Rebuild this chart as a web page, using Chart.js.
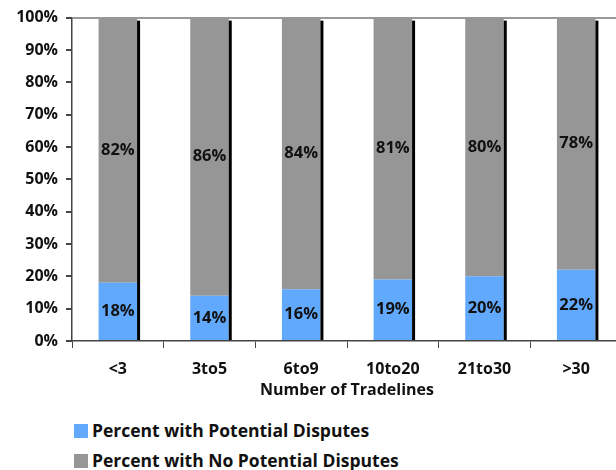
<!DOCTYPE html>
<html>
<head>
<meta charset="utf-8">
<script src="https://cdn.jsdelivr.net/npm/chart.js@4.4.1/dist/chart.umd.min.js"></script>
<style>
  html, body { margin: 0; padding: 0; background: #fff; overflow: hidden; }
  #wrap { position: relative; width: 622px; height: 405px; }
  .legend { position: absolute; left: 74px; top: 419px; font-family: "Open Sans", sans-serif; font-weight: 700; font-size: 17.5px; color: #111; }
  .legend div { height: 22px; line-height: 22px; margin-bottom: 8px; white-space: nowrap; }
  .legend span.box { display: inline-block; width: 14px; height: 14px; margin-right: 4px; vertical-align: -1px; }
</style>
</head>
<body>
<div id="wrap"><canvas id="c" width="622" height="405"></canvas></div>
<div class="legend" id="legend"></div>
<script>
// data
var categories = ['<3', '3to5', '6to9', '10to20', '21to30', '>30'];
var withDisputes = [18, 14, 16, 19, 20, 22];
var noDisputes = [82, 86, 84, 81, 80, 78];
var yTicks = [0, 10, 20, 30, 40, 50, 60, 70, 80, 90, 100];

var blue = '#61a9fd';
var gray = '#969696';
var font = '"Open Sans", sans-serif';

// black strip at right side of each bar
var shadowPlugin = {
    id: 'shadow',
    afterDatasetsDraw: function (chart) {
        var c = chart.ctx;
        var metaTop = chart.getDatasetMeta(1);
        var metaBot = chart.getDatasetMeta(0);
        c.save();
        c.fillStyle = '#000';
        metaTop.data.forEach(function (bar, i) {
            var b = metaBot.data[i];
            var right = bar.x + bar.width / 2;
            c.fillRect(right, bar.y + 3, 3, b.base - bar.y - 3);
        });
        c.restore();
    }
};

// value labels centered in each segment
var labelPlugin = {
    id: 'vals',
    afterDatasetsDraw: function (chart) {
        var c = chart.ctx;
        c.save();
        c.font = 'bold 16.5px ' + font;
        c.fillStyle = '#111';
        c.textAlign = 'center';
        c.textBaseline = 'middle';
        chart.data.datasets.forEach(function (ds, di) {
            chart.getDatasetMeta(di).data.forEach(function (bar, i) {
                c.fillText(ds.data[i] + '%', bar.x, (bar.y + bar.base) / 2);
            });
        });
        c.restore();
    }
};

var legend = document.getElementById('legend');
[['Percent with Potential Disputes', blue], ['Percent with No Potential Disputes', gray]].forEach(function (it) {
    var d = document.createElement('div');
    d.innerHTML = '<span class="box" style="background:' + it[1] + '"></span>' + it[0];
    legend.appendChild(d);
});

var ctx = document.getElementById('c');
new Chart(ctx, {
    type: 'bar',
    data: {
        labels: categories,
        datasets: [{
            label: 'Percent with Potential Disputes',
            data: withDisputes,
            backgroundColor: blue,
            barPercentage: 0.84,
            categoryPercentage: 0.5
        }, {
            label: 'Percent with No Potential Disputes',
            data: noDisputes,
            backgroundColor: gray,
            barPercentage: 0.84,
            categoryPercentage: 0.5
        }]
    },
    options: {
        responsive: false,
        animation: false,
        devicePixelRatio: 1,
        layout: { padding: { top: 11, right: 0, left: 0, bottom: 0 } },
        plugins: {
            legend: { display: false },
            tooltip: { enabled: false }
        },
        scales: {
            x: {
                stacked: true,
                grid: { display: true, color: 'transparent', tickColor: '#444', tickLength: 7, offset: true },
                border: { color: '#444', width: 1.5 },
                ticks: { color: '#111', autoSkip: false, maxRotation: 0, font: { family: font, weight: 'bold', size: 16, lineHeight: 1 }, padding: 13 },
                title: { display: true, text: 'Number of Tradelines', color: '#111', font: { family: font, weight: 'bold', size: 16, lineHeight: 1 }, padding: { top: -8, bottom: 7 } }
            },
            y: {
                stacked: true,
                min: 0,
                max: 100,
                afterBuildTicks: function (s) { s.ticks = yTicks.map(function (v) { return { value: v }; }); },
                afterFit: function (s) { s.width = 72; },
                grid: {
                    color: function (c) { return c.tick && c.tick.value === 100 ? '#999' : 'transparent'; },
                    lineWidth: 2,
                    tickColor: '#444',
                    tickLength: 6
                },
                border: { color: '#444', width: 1.5 },
                ticks: {
                    color: '#111',
                    padding: 8,
                    font: { family: font, weight: 'bold', size: 16 },
                    callback: function (v) { return v + '%'; }
                }
            }
        }
    },
    plugins: [shadowPlugin, labelPlugin]
});
</script>
</body>
</html>
